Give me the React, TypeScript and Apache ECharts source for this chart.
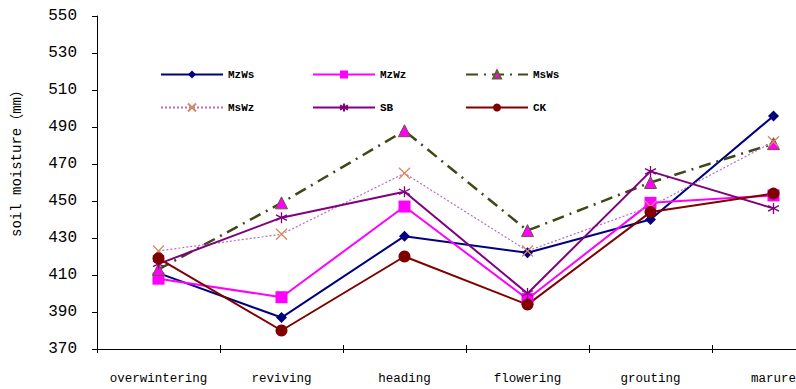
import React, { useEffect, useRef } from "react";
import * as echarts from "echarts";

const categories = ["overwintering", "reviving", "heading", "flowering", "grouting", "marure"];
const yTicks = { min: 370, max: 550, interval: 20 };

const MzWs = [411, 387, 431, 422, 440, 496];
const MzWz = [408, 398, 447, 397, 449, 453];
const MsWs = [413, 449, 488, 434, 460, 481];
const MsWz = [423, 432, 465, 423, 447, 482];
const SB = [416, 441, 455, 400, 466, 446];
const CK = [419, 380, 420, 394, 444, 454];

const seriesNames = ["MzWs", "MzWz", "MsWs", "MsWz", "SB", "CK"];
const yTitle = "soil moisture（mm）";

const X_PATH = "path://M0,0L10,10M10,0L0,10";
const STAR_PATH = "path://M5,0L5,10M0,2.5L10,7.5M10,2.5L0,7.5";

const MONO = "'Liberation Mono', 'DejaVu Sans Mono', 'Noto Sans CJK SC', monospace";

export default function App() {
  const ref = useRef<HTMLDivElement>(null);

  useEffect(() => {
    if (!ref.current) return;
    const chart = echarts.init(ref.current, null, { renderer: "svg" });

    const legendPos = [
      { left: 160, top: 69 },
      { left: 312, top: 69 },
      { left: 465, top: 69 },
      { left: 160, top: 102 },
      { left: 312, top: 102 },
      { left: 465, top: 102 },
    ];

    const option: any = {
      animation: false,
      backgroundColor: "#ffffff",
      grid: { left: 97, top: 16, width: 738, height: 333, containLabel: false, outerBoundsMode: "none" },
      legend: seriesNames.map((n, i) => ({
        data: [n],
        left: legendPos[i].left,
        top: legendPos[i].top,
        itemWidth: 62,
        itemHeight: 10,
        padding: 0,
        selectedMode: false,
        textStyle: { fontFamily: MONO, fontSize: 11, fontWeight: "bold", color: "#000" },
      })),
      xAxis: [
        {
          type: "category",
          data: categories,
          boundaryGap: true,
          position: "bottom",
          axisLine: { lineStyle: { color: "#000", width: 1 } },
          axisTick: { show: true, length: 4, lineStyle: { color: "#000" } },
          axisLabel: { color: "#000", fontFamily: MONO, fontSize: 12.5, margin: 24, interval: 0 },
          splitLine: { show: false },
        },
        {
          type: "category",
          data: categories,
          boundaryGap: true,
          position: "bottom",
          offset: 0,
          axisLine: { show: false },
          axisTick: { show: true, inside: true, length: 4, lineStyle: { color: "#000" } },
          axisLabel: { show: false },
          splitLine: { show: false },
        },
      ],
      yAxis: {
        type: "value",
        min: yTicks.min,
        max: yTicks.max,
        interval: yTicks.interval,
        axisLine: { show: true, lineStyle: { color: "#000", width: 1 } },
        axisTick: { show: true, length: 5, lineStyle: { color: "#000" } },
        axisLabel: { color: "#000", fontFamily: MONO, fontSize: 16, margin: 20 },
        splitLine: { show: false },
      },
      graphic: [
        {
          type: "text",
          x: 17,
          y: 160,
          rotation: Math.PI / 2,
          style: {
            text: yTitle,
            fontFamily: MONO,
            fontSize: 14,
            fill: "#000",
            align: "center",
            verticalAlign: "middle",
          },
        },
      ],
      series: [
        {
          name: "MzWs",
          type: "line",
          data: MzWs,
          symbol: "diamond",
          symbolSize: 11,
          lineStyle: { color: "#000080", width: 2 },
          itemStyle: { color: "#000080" },
        },
        {
          name: "MzWz",
          type: "line",
          data: MzWz,
          symbol: "rect",
          symbolSize: 12,
          lineStyle: { color: "#ff00ff", width: 2 },
          itemStyle: { color: "#ff00ff" },
        },
        {
          name: "MsWs",
          type: "line",
          data: MsWs,
          symbol: "triangle",
          symbolSize: 12,
          lineStyle: { color: "#404818", width: 2.5, type: [12, 6, 2, 6] },
          itemStyle: { color: "#ff00ff", borderColor: "#6a5a30", borderWidth: 1 },
        },
        {
          name: "MsWz",
          type: "line",
          data: MsWz,
          symbol: X_PATH,
          symbolSize: 11,
          lineStyle: { color: "#b46cc8", width: 1.2, type: [2, 2] },
          itemStyle: { color: "rgba(0,0,0,0)", borderColor: "#d8895e", borderWidth: 1.3 },
        },
        {
          name: "SB",
          type: "line",
          data: SB,
          symbol: STAR_PATH,
          symbolSize: 11,
          lineStyle: { color: "#800080", width: 2 },
          itemStyle: { color: "rgba(0,0,0,0)", borderColor: "#800080", borderWidth: 1.3 },
        },
        {
          name: "CK",
          type: "line",
          data: CK,
          symbol: "circle",
          symbolSize: 12,
          lineStyle: { color: "#800000", width: 2 },
          itemStyle: { color: "#800000" },
        },
      ],
    };

    chart.setOption(option);
    return () => chart.dispose();
  }, []);

  return (
    <div
      style={{ position: "fixed", left: 0, top: 0, width: 796, height: 389, overflow: "hidden", background: "#fff" }}
    >
      <div ref={ref} style={{ width: 840, height: 389 }} />
    </div>
  );
}
